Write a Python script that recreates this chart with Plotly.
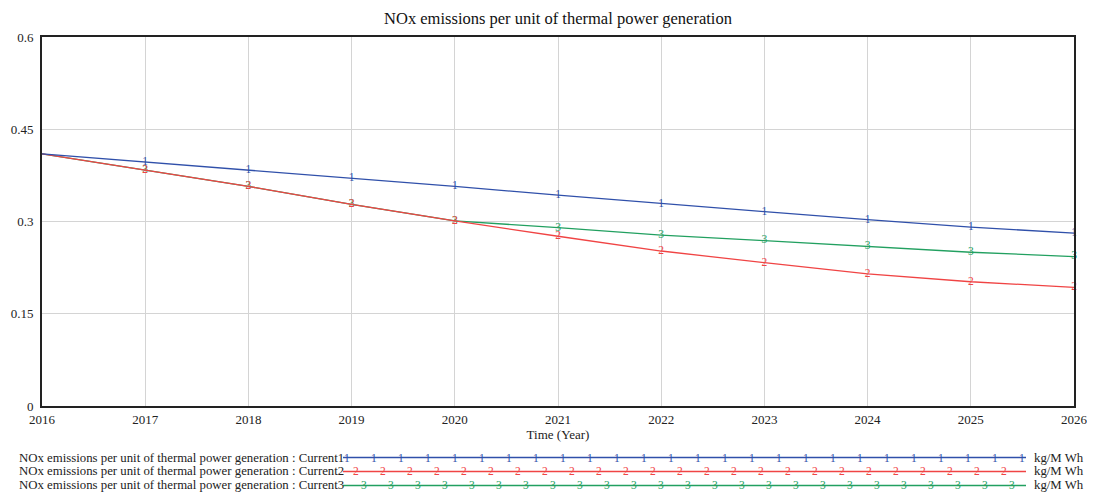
"""
NOx emissions per unit of thermal power generation - Vensim style run comparison
"""

import plotly.graph_objects as go

years = [2016, 2017, 2018, 2019, 2020, 2021, 2022, 2023, 2024, 2025, 2026]
current1 = [0.410, 0.397, 0.383, 0.370, 0.357, 0.343, 0.329, 0.316, 0.303, 0.291, 0.281]
current2 = [0.410, 0.384, 0.357, 0.328, 0.301, 0.276, 0.252, 0.233, 0.215, 0.202, 0.193]
current3 = [0.410, 0.384, 0.357, 0.328, 0.301, 0.290, 0.278, 0.269, 0.260, 0.250, 0.243]

y_ticks = [0, 0.15, 0.3, 0.45, 0.6]
series_name = "NOx emissions per unit of thermal power generation : Current"
units = "kg/M Wh"

FONT = "Liberation Serif, Times New Roman, serif"
BLUE = "#3050AA"
RED = "#F04444"
GREEN = "#22A060"

# page body has an 8px margin; keep the figure fully inside the 1095x501
# window and lay everything out in page pixels
OFF = 8
PX0, PX1, PY0, PY1 = 42, 1074, 37, 406
W, H = 1095 - 2 * OFF, 501 - 2 * OFF
PW = PX1 - PX0
PH = PY1 - PY0
ML, MT = PX0 - OFF, PY0 - OFF
MR, MB = W - ML - PW, H - MT - PH


def px_x(x):
    return (x - PX0) / PW


def px_y(y):
    return (PY1 - y) / PH


fig = go.Figure()

# draw order: green under red, blue on top
runs = [
    ("3", current3, GREEN),
    ("2", current2, RED),
    ("1", current1, BLUE),
]
for tag, vals, col in runs:
    fig.add_trace(go.Scatter(
        x=years,
        y=vals,
        mode="lines+text",
        line=dict(color=col, width=1.3),
        text=[""] + [tag] * (len(years) - 1),
        textposition="middle center",
        textfont=dict(family=FONT, size=11.5, color=col),
        cliponaxis=False,
        showlegend=False,
        hoverinfo="skip",
    ))

# Vensim-like legend rows below the chart
legend_rows = [("1", BLUE, 457.5, 0), ("2", RED, 471.5, 9), ("3", GREEN, 485.5, 17)]
line_x0, line_x1 = 343, 1026
for tag, col, ypx, offset in legend_rows:
    fig.add_annotation(
        x=px_x(17), y=px_y(ypx), xref="paper", yref="paper",
        text=series_name + tag, showarrow=False,
        xanchor="left", yanchor="middle",
        font=dict(family=FONT, size=12.8, color="#222222"),
    )
    fig.add_shape(
        type="line", xref="paper", yref="paper",
        x0=px_x(line_x0), x1=px_x(line_x1), y0=px_y(ypx), y1=px_y(ypx),
        line=dict(color=col, width=1.3),
    )
    xm = 347 + offset
    while xm <= line_x1:
        fig.add_annotation(
            x=px_x(xm), y=px_y(ypx), xref="paper", yref="paper",
            text=tag, showarrow=False, xanchor="center", yanchor="middle",
            font=dict(family=FONT, size=11.5, color=col),
        )
        xm += 27.0
    fig.add_annotation(
        x=px_x(1032), y=px_y(ypx), xref="paper", yref="paper",
        text=units, showarrow=False, xanchor="left", yanchor="middle",
        font=dict(family=FONT, size=12.8, color="#222222"),
    )

fig.update_layout(
    width=W,
    height=H,
    margin=dict(l=ML, r=MR, t=MT, b=MB, autoexpand=False),
    paper_bgcolor="white",
    plot_bgcolor="white",
    font=dict(family=FONT, color="#222222"),
    title=dict(
        text="NOx emissions per unit of thermal power generation",
        x=((PX0 + PX1) / 2 - OFF) / W, xanchor="center",
        y=1 - (18 - OFF) / H, yanchor="middle",
        font=dict(family=FONT, size=16.5, color="#111111"),
    ),
    xaxis=dict(
        range=[2016, 2026],
        tickvals=years,
        ticktext=[str(y) for y in years],
        showgrid=True,
        gridcolor="#D4D4D4",
        gridwidth=1.3,
        zeroline=False,
        showline=True,
        linecolor="#222222",
        linewidth=2,
        mirror=True,
        ticks="",
        automargin=False,
        ticklabeloverflow="allow",
        tickfont=dict(family=FONT, size=13, color="#222222"),
        title=dict(text="Time (Year)", font=dict(family=FONT, size=13, color="#222222"), standoff=4),
    ),
    yaxis=dict(
        range=[0, 0.6],
        tickvals=y_ticks,
        ticktext=["0", "0.15", "0.3", "0.45", "0.6"],
        showgrid=True,
        gridcolor="#D4D4D4",
        gridwidth=1.3,
        zeroline=False,
        showline=True,
        linecolor="#222222",
        linewidth=2,
        mirror=True,
        ticks="",
        automargin=False,
        ticklabeloverflow="allow",
        ticklabelstandoff=4,
        tickfont=dict(family=FONT, size=13, color="#222222"),
    ),
)

fig.write_html("out.html")
